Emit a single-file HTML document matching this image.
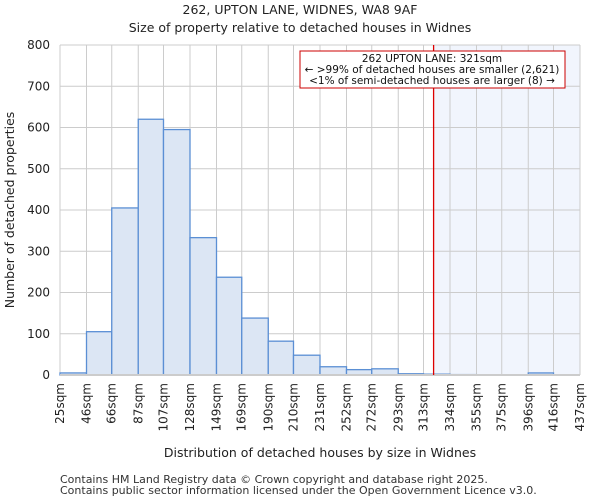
<!DOCTYPE html>
<html><head><meta charset="utf-8"><style>
body{margin:0;background:#fff;font-family:"DejaVu Sans","Liberation Sans",sans-serif}
</style></head><body>
<svg id="c" width="600" height="500" xmlns="http://www.w3.org/2000/svg" font-family="DejaVu Sans, Liberation Sans, sans-serif"></svg>
<script>
const tickLabels=["25sqm","46sqm","66sqm","87sqm","107sqm","128sqm","149sqm","169sqm","190sqm","210sqm","231sqm","252sqm","272sqm","293sqm","313sqm","334sqm","355sqm","375sqm","396sqm","416sqm","437sqm"];
const binEdges=[25,46,66,87,107,128,149,169,190,210,231,252,272,293,313,334,355,375,396,416,437];
const counts=[5,105,405,620,595,333,237,138,82,48,20,13,15,3,2,1,0,0,5,0];
const yTicks=[0,100,200,300,400,500,600,700,800];
const markerValue=321;
const svg=document.getElementById('c');const NS="http://www.w3.org/2000/svg";
const L=60,R=580,T=45,B=375;
const x=v=>L+(v-binEdges[0])/(binEdges[binEdges.length-1]-binEdges[0])*(R-L);
const y=v=>B-v/800*(B-T);
function el(t,a,txt){const e=document.createElementNS(NS,t);for(const k in a)e.setAttribute(k,a[k]);if(txt!=null)e.textContent=txt;svg.appendChild(e);return e;}
let e;
e=el('rect',{x:x(markerValue),y:T,width:R-x(markerValue),height:B-T,fill:'#edf2fc',opacity:0.8});

yTicks.forEach(t=>{e=el('line',{x1:L,x2:R,y1:y(t),y2:y(t),stroke:'#ccc'});
e=el('text',{x:L-10,y:y(t)+4,'text-anchor':'end','font-size':12,fill:'#222'},t);});
binEdges.forEach((b,i)=>{e=el('line',{x1:x(b),x2:x(b),y1:T,y2:B,stroke:'#ccc'});
const tx=x(b)+4,ty=B+8;e=el('text',{x:tx,y:ty,transform:`rotate(-90 ${tx} ${ty})`,'text-anchor':'end','font-size':12,fill:'#222'},tickLabels[i]);});
counts.forEach((c,i)=>{if(c<=0)return;e=el('rect',{x:x(binEdges[i]),y:y(c),width:x(binEdges[i+1])-x(binEdges[i]),height:B-y(c),fill:'#dce6f4',stroke:'#5b8fd4','stroke-width':1.3});});
e=el('line',{x1:L,x2:R,y1:B,y2:B,stroke:'#ccc','stroke-width':2});
e=el('line',{x1:x(markerValue),x2:x(markerValue),y1:T,y2:B,stroke:'#d00','stroke-width':1.3});
e=el('rect',{x:300,y:51,width:265,height:37,fill:'#fff',stroke:'#c00'});
["262 UPTON LANE: 321sqm","← >99% of detached houses are smaller (2,621)","<1% of semi-detached houses are larger (8) →"].forEach((s,i)=>{e=el('text',{x:432,y:62+i*11,'text-anchor':'middle','font-size':10.5,fill:'#111'},s);});
e=el('text',{x:300,y:14,'text-anchor':'middle','font-size':12.5,fill:'#222'},"262, UPTON LANE, WIDNES, WA8 9AF");
e=el('text',{x:300,y:32,'text-anchor':'middle','font-size':12.5,fill:'#222'},"Size of property relative to detached houses in Widnes");
e=el('text',{x:320,y:457,'text-anchor':'middle','font-size':12.5,fill:'#222'},"Distribution of detached houses by size in Widnes");
e=el('text',{x:14,y:210,transform:'rotate(-90 14 210)','text-anchor':'middle','font-size':12.5,fill:'#222'},"Number of detached properties");
e=el('text',{x:60,y:483,'font-size':11,fill:'#333'},"Contains HM Land Registry data © Crown copyright and database right 2025.");
e=el('text',{x:60,y:494,'font-size':11,fill:'#333'},"Contains public sector information licensed under the Open Government Licence v3.0.");
</script></body></html>
